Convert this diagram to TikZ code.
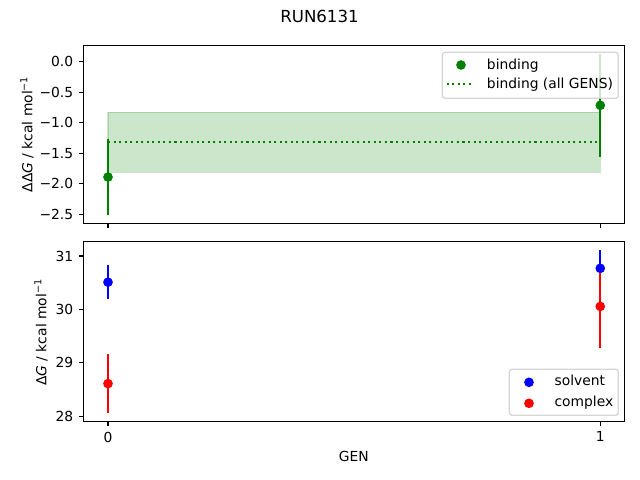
\documentclass[tikz,border=0pt]{standalone}
\usepackage{fontspec}
\setmainfont{DejaVu Sans}
\definecolor{mplgreen}{rgb}{0,0.5,0}
\definecolor{mplblue}{rgb}{0,0,1}
\definecolor{mplred}{rgb}{1,0,0}
\definecolor{legendedge}{gray}{0.8}
\tikzset{
    axframe/.style={line width=0.8pt},
    axtick/.style={line width=0.8pt},
    ticklabel/.style={inner sep=0pt, font=\fontsize{10}{12}\selectfont},
    dot/.style={circle, inner sep=0pt, minimum size=7pt},
    errbar/.style={line width=1.5pt},
    legendbox/.style={draw=legendedge, fill=white, opacity=0.8, line width=1pt, rounded corners=2pt},
    legendtext/.style={anchor=base west, inner sep=0pt, font=\fontsize{10}{12}\selectfont},
}
\begin{document}
\begin{tikzpicture}
[
    x=0.01in, y=-0.01in,
]
\useasboundingbox (0,0) rectangle (640,480);
\node[font=\fontsize{12}{14}\selectfont] (title) at (319.5,16.5) {RUN6131};
\node[rotate=90, font=\fontsize{10}{12}\selectfont] (ylabtop) at (27,134.3) {ΔΔ{\itshape G} / kcal mol\textsuperscript{−1}};
\node[rotate=90, font=\fontsize{10}{12}\selectfont] (ylabbot) at (41,332.3) {Δ{\itshape G} / kcal mol\textsuperscript{−1}};
\node[font=\fontsize{10}{12}\selectfont] (xlab) at (353.7,456.7) {GEN};

% binding
\begin{scope}[shift={(108,61.7)}, x=4.92in, y=0.61in]
    \coordinate (bandtl) at (0,-0.83);
    \coordinate (bandbr) at (1,-1.813);
    \path[fill=mplgreen, draw=mplgreen, opacity=0.2, line width=1pt] (bandtl) rectangle (bandbr);
    \coordinate (meanl) at (0,-1.315);
    \coordinate (meanr) at (1,-1.315);
    \draw[mplgreen, line width=1.5pt, dash pattern=on 1.5pt off 2.5pt] (meanl) -- (meanr);
    \coordinate (b0hi) at (0,-1.26);
    \coordinate (b0lo) at (0,-2.51);
    \coordinate (b1hi) at (1,0.13);
    \coordinate (b1lo) at (1,-1.557);
    \draw[errbar, mplgreen] (b0hi) -- (b0lo);
    \draw[errbar, mplgreen] (b1hi) -- (b1lo);
    \node[dot, fill=mplgreen] (b0) at (0,-1.89) {};
    \node[dot, fill=mplgreen] (b1) at (1,-0.715) {};
    \draw[axframe] (-0.05,-2.649) rectangle (1.05,0.269);
    \foreach \v/\t [count=\i] in {0/0.0, -0.5/−0.5, -1/−1.0, -1.5/−1.5, -2/−2.0, -2.5/−2.5}
        \draw[axtick] (-0.05,\v) -- ++(-3.5pt,0)
            node[ticklabel, anchor=east, xshift=-3.5pt] (tyl\i) {\t};
    \foreach \g in {0,1}
        \draw[axtick] (\g,-2.649) -- ++(0,-3.5pt);
\end{scope}
\draw[legendbox] (442.3,52.3) rectangle (618.3,98.3);
\node[dot, fill=mplgreen] (legb) at (461,65) {};
\node[legendtext] (legbtext) at (486.7,69.5) {binding};
\coordinate (legml) at (446.7,84);
\coordinate (legmr) at (473.3,84);
\draw[mplgreen, line width=1.5pt, dash pattern=on 1.5pt off 2.5pt] (legml) -- (legmr);
\node[legendtext] (legmtext) at (486.7,88.5) {binding (all GENS)};

% solvent and complex
\begin{scope}[shift={(108,1910.8)}, x=4.92in, y=0.5335in]
    \coordinate (s0hi) at (0,30.84);
    \coordinate (s0lo) at (0,30.19);
    \coordinate (s1hi) at (1,31.11);
    \coordinate (s1lo) at (1,30.43);
    \coordinate (c0hi) at (0,29.16);
    \coordinate (c0lo) at (0,28.06);
    \coordinate (c1hi) at (1,30.84);
    \coordinate (c1lo) at (1,29.27);
    \draw[errbar, mplblue] (s0hi) -- (s0lo);
    \draw[errbar, mplblue] (s1hi) -- (s1lo);
    \draw[errbar, mplred] (c0hi) -- (c0lo);
    \draw[errbar, mplred] (c1hi) -- (c1lo);
    \node[dot, fill=mplblue] (s0) at (0,30.51) {};
    \node[dot, fill=mplblue] (s1) at (1,30.77) {};
    \node[dot, fill=mplred] (c0) at (0,28.61) {};
    \node[dot, fill=mplred] (c1) at (1,30.056) {};
    \draw[axframe] (-0.05,27.9) rectangle (1.05,31.267);
    \foreach \v [count=\i] in {28,29,30,31}
        \draw[axtick] (-0.05,\v) -- ++(-3.5pt,0)
            node[ticklabel, anchor=east, xshift=-3.5pt] (byl\i) {\v};
    \foreach \g in {0,1}
        \draw[axtick] (\g,27.9) -- ++(0,-3.5pt)
            node[ticklabel, anchor=north, yshift=-3.5pt] (bxl\g) {\g};
\end{scope}
\draw[legendbox] (509.3,369.3) rectangle (618.3,415.3);
\node[dot, fill=mplblue] (legs) at (529,382.3) {};
\node[legendtext] (legstext) at (554.3,386) {solvent};
\node[dot, fill=mplred] (legc) at (529,403.3) {};
\node[legendtext] (legctext) at (554.3,407) {complex};
\end{tikzpicture}
\end{document}
